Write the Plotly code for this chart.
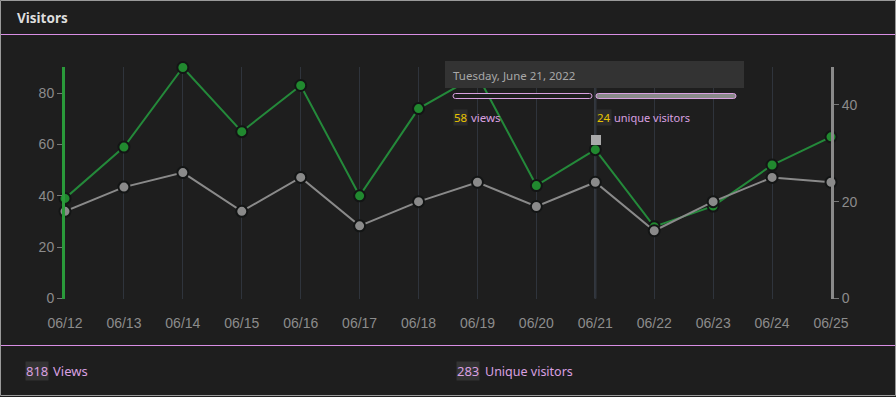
import datetime
import plotly.graph_objects as go

# ---- data ----
dates = ["2022-06-12", "2022-06-13", "2022-06-14", "2022-06-15", "2022-06-16",
         "2022-06-17", "2022-06-18", "2022-06-19", "2022-06-20", "2022-06-21",
         "2022-06-22", "2022-06-23", "2022-06-24", "2022-06-25"]
tick_labels = ["06/12", "06/13", "06/14", "06/15", "06/16", "06/17", "06/18",
               "06/19", "06/20", "06/21", "06/22", "06/23", "06/24", "06/25"]
views = [39, 59, 90, 65, 83, 40, 74, 87, 44, 58, 28, 36, 52, 63]
unique_visitors = [18, 23, 26, 18, 25, 15, 20, 24, 19, 24, 14, 20, 25, 24]
total_views = 818
total_unique = 283
hover_index = 9
left_ticks = [0, 20, 40, 60, 80]
right_ticks = [0, 20, 40]

W, H = 896, 397
BG = "#1e1e1e"
PINK = "#d9a0e0"
LINE_PINK = "#d88ee4"
GREEN = "#24893a"
GREEN_AXIS = "#2a9a3a"
GREEN_MARK = "#21892f"
GRAY = "#8a8a8a"
UI_FONT = "Segoe UI, Noto Sans, sans-serif"
AX_FONT = "Liberation Sans, Arial, sans-serif"


def px(x):
    return x / W


def py(y):
    return 1 - y / H


x_idx = list(range(len(dates)))

fig = go.Figure()
fig.add_trace(go.Scatter(
    x=x_idx, y=views, mode="lines+markers", yaxis="y",
    line=dict(color=GREEN, width=2),
    marker=dict(size=11, color=GREEN_MARK, line=dict(color="#131515", width=2)),
    cliponaxis=False, name="views"))
fig.add_trace(go.Scatter(
    x=x_idx, y=unique_visitors, mode="lines+markers", yaxis="y2",
    line=dict(color=GRAY, width=2),
    marker=dict(size=11, color=GRAY, line=dict(color="#131515", width=2)),
    cliponaxis=False, name="unique visitors"))

x0, x1 = px(65), px(831)
y0, y1 = py(298.5), py(67)

fig.update_layout(
    width=W, height=H, autosize=False,
    paper_bgcolor=BG, plot_bgcolor=BG,
    margin=dict(l=0, r=0, t=0, b=0, pad=0, autoexpand=False),
    showlegend=False, hovermode=False,
    xaxis=dict(domain=[x0, x1], range=[0, len(dates) - 1], automargin=False,
               tickvals=x_idx, ticktext=tick_labels,
               showgrid=True, gridcolor="#2f343c", gridwidth=1,
               zeroline=False, showline=False, ticks="",
               ticklabelstandoff=14,
               tickfont=dict(family=AX_FONT, size=14, color="#8c8c8c")),
    yaxis=dict(domain=[y0, y1], range=[0, 90.2], tickvals=left_ticks, automargin=False,
               showgrid=False, zeroline=False,
               showline=True, linecolor=GREEN_AXIS, linewidth=3,
               ticks="outside", ticklen=5, tickcolor="#777",
               tickfont=dict(family=AX_FONT, size=14, color="#8c8c8c")),
    yaxis2=dict(domain=[y0, y1], range=[0, 47.8], tickvals=right_ticks, automargin=False,
                overlaying="y", side="right", anchor="x",
                showgrid=False, zeroline=False,
                showline=True, linecolor=GRAY, linewidth=3,
                ticks="outside", ticklen=5, tickcolor="#777",
                tickfont=dict(family=AX_FONT, size=14, color="#8c8c8c")),
)

shapes = []
# outer border
shapes.append(dict(type="rect", xref="paper", yref="paper", x0=px(0.5), x1=px(895.5),
                   y0=py(395.5), y1=py(0.5), line=dict(color="#9a9a9a", width=1)))
# header / footer separators
shapes.append(dict(type="line", xref="paper", yref="paper", x0=px(1), x1=px(895),
                   y0=py(34.5), y1=py(34.5), line=dict(color=LINE_PINK, width=1)))
shapes.append(dict(type="line", xref="paper", yref="paper", x0=px(1), x1=px(895),
                   y0=py(345.5), y1=py(345.5), line=dict(color=LINE_PINK, width=1)))
# hovered gridline
shapes.append(dict(type="line", xref="x", yref="paper", x0=hover_index, x1=hover_index,
                   y0=y0, y1=y1, line=dict(color="#3e444e", width=2), layer="below"))
# tooltip box
shapes.append(dict(type="rect", xref="paper", yref="paper", x0=px(445), x1=px(744),
                   y0=py(88), y1=py(61), line=dict(width=0), fillcolor="#333333"))


def pill(xa, xb, ya, yb, fill):
    r = (yb - ya) / 2
    path = (f"M {px(xa + r)},{py(ya)} L {px(xb - r)},{py(ya)} "
            f"Q {px(xb)},{py(ya)} {px(xb)},{py(ya + r)} "
            f"Q {px(xb)},{py(yb)} {px(xb - r)},{py(yb)} "
            f"L {px(xa + r)},{py(yb)} "
            f"Q {px(xa)},{py(yb)} {px(xa)},{py(ya + r)} "
            f"Q {px(xa)},{py(ya)} {px(xa + r)},{py(ya)} Z")
    return dict(type="path", xref="paper", yref="paper", path=path,
                fillcolor=fill, line=dict(color=PINK, width=1))


shapes.append(pill(453, 592, 93.5, 98.5, "#1e1e1e"))
shapes.append(pill(596, 736, 93.5, 98.5, "#8a8a8a"))
# hover marker square
shapes.append(dict(type="rect", xref="paper", yref="paper", x0=px(591), x1=px(601),
                   y0=py(145), y1=py(135), line=dict(width=0), fillcolor="#aaaaaa"))
fig.update_layout(shapes=shapes)

hover_date = datetime.date.fromisoformat(dates[hover_index])
hover_title = f"{hover_date.strftime('%A, %B')} {hover_date.day}, {hover_date.year}"

ann = []


def text(x, y, s, color, size, bg=None, bold=False, family=UI_FONT):
    d = dict(xref="paper", yref="paper", x=px(x), y=py(y), xanchor="left", yanchor="middle",
             text=f"<b>{s}</b>" if bold else s, showarrow=False,
             font=dict(family=family, size=size, color=color), borderpad=0)
    if bg:
        d["bgcolor"] = bg
    ann.append(d)


text(16, 18, "Visitors", "#dddddd", 13.5, bold=True)
text(452, 75, hover_title, "#a8a8a8", 11.5)
text(453, 118, str(views[hover_index]), "#e8c400", 11.5, bg="#2c2c2c")
text(470, 118, "views", PINK, 11.5)
text(596, 118, str(unique_visitors[hover_index]), "#e8c400", 11.5, bg="#2c2c2c")
text(613, 118, "unique visitors", PINK, 11)
text(25, 371, str(total_views), PINK, 13, bg="#333333")
text(52, 371, "Views", PINK, 13)
text(456, 371, str(total_unique), PINK, 13, bg="#333333")
text(484, 371, "Unique visitors", PINK, 12.5)
fig.update_layout(annotations=ann)

fig.write_html(
    "out.html",
    config={"displayModeBar": False},
    post_script="document.body.style.margin='0';document.body.style.overflow='hidden';",
)
